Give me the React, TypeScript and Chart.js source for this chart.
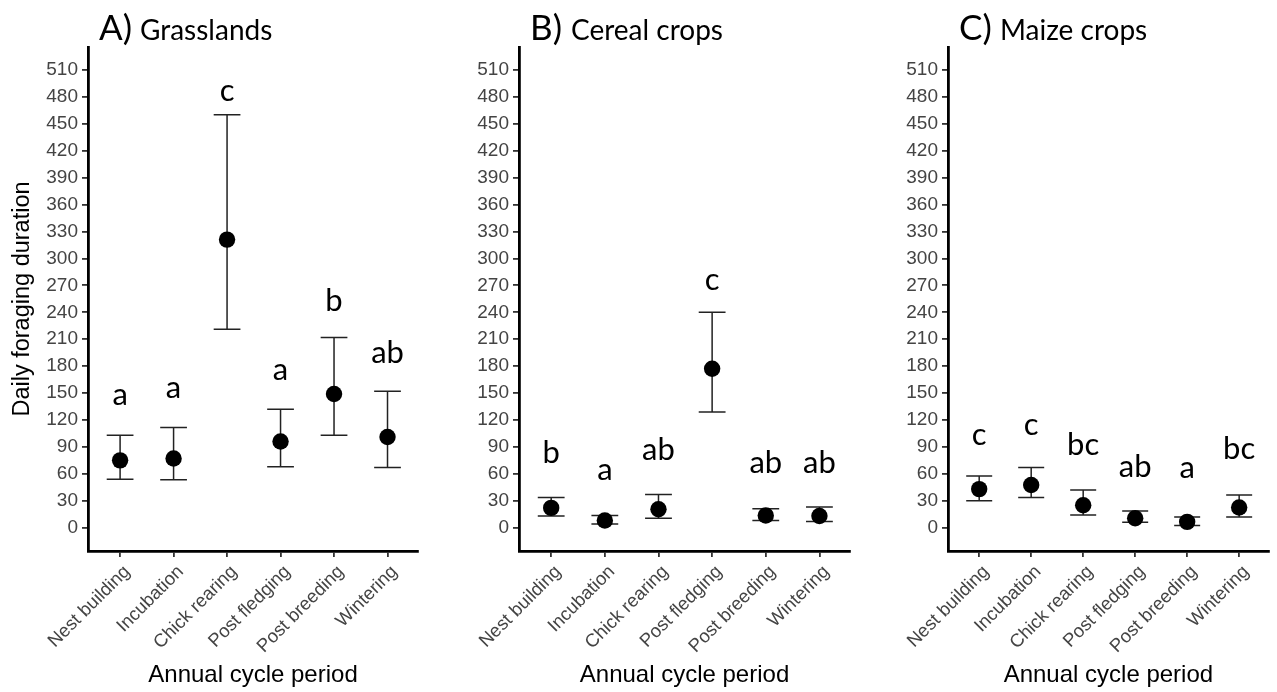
import React, { useEffect, useRef } from "react";
import { Chart, registerables } from "chart.js";

Chart.register(...registerables);

const categories = ["Nest building", "Incubation", "Chick rearing", "Post fledging", "Post breeding", "Wintering"];
const yTicks = [0, 30, 60, 90, 120, 150, 180, 210, 240, 270, 300, 330, 360, 390, 420, 450, 480, 510];

const grassMean = [75, 77, 321, 96, 149, 101];
const grassUpper = [103, 111.5, 460, 132, 212, 152];
const grassLower = [54, 53.5, 221, 68, 103, 67];
const grassLetters = ["a", "a", "c", "a", "b", "ab"];
const grassLetterY = [137, 145, 475, 165, 241, 184];

const cerealMean = [22, 8, 20.5, 177, 13.5, 13];
const cerealUpper = [33.5, 13.5, 37, 240, 21, 23];
const cerealLower = [13, 4, 10.5, 129, 8, 7];
const cerealLetters = ["b", "a", "ab", "c", "ab", "ab"];
const cerealLetterY = [72, 53, 75, 265, 61, 61];

const maizeMean = [43, 47.5, 25, 10.5, 6.5, 22.5];
const maizeUpper = [57.5, 67, 42, 18.5, 12, 36.5];
const maizeLower = [30, 33.5, 14, 6, 2.5, 12];
const maizeLetters = ["c", "c", "bc", "ab", "a", "bc"];
const maizeLetterY = [92, 103, 81, 57, 55, 77];

const TICK_FONT = "'Liberation Sans', Arial, sans-serif";
const LABEL_FONT = "Lato, 'Open Sans', sans-serif";

type PanelProps = {
  prefix: string;
  name: string;
  mean: number[];
  upper: number[];
  lower: number[];
  letters: string[];
  letterY: number[];
  left: number;
  width: number;
  padRight: number;
  showYTitle: boolean;
};

function Panel(p: PanelProps) {
  const ref = useRef<HTMLCanvasElement | null>(null);
  useEffect(() => {
    if (!ref.current) return;
    const plugin = {
      id: "errorBarsLetters",
      beforeDatasetsDraw(chart: any) {
        const { ctx, scales } = chart;
        const x = scales.x;
        const y = scales.y;
        ctx.save();
        ctx.strokeStyle = "#222";
        ctx.lineWidth = 1.5;
        p.mean.forEach((_, i) => {
          const cx = x.getPixelForValue(i);
          const x0 = x.getPixelForValue(i - 0.25);
          const x1 = x.getPixelForValue(i + 0.25);
          const yu = y.getPixelForValue(p.upper[i]);
          const yl = y.getPixelForValue(p.lower[i]);
          ctx.beginPath();
          ctx.moveTo(cx, yu);
          ctx.lineTo(cx, yl);
          ctx.moveTo(x0, yu);
          ctx.lineTo(x1, yu);
          ctx.moveTo(x0, yl);
          ctx.lineTo(x1, yl);
          ctx.stroke();
        });
        ctx.restore();
      },
      afterDraw(chart: any) {
        const { ctx, scales, chartArea } = chart;
        const x = scales.x;
        const y = scales.y;
        ctx.save();
        ctx.fillStyle = "#000";
        ctx.textAlign = "center";
        ctx.textBaseline = "alphabetic";
        ctx.font = `31px ${LABEL_FONT}`;
        p.letters.forEach((t, i) => {
          ctx.fillText(t, x.getPixelForValue(i), y.getPixelForValue(p.letterY[i]));
        });
        ctx.textAlign = "left";
        ctx.font = `35px ${LABEL_FONT}`;
        ctx.fillText(p.prefix, chartArea.left + 11, 40);
        ctx.font = `28px ${LABEL_FONT}`;
        ctx.fillText(p.name, chartArea.left + 52, 40);
        ctx.restore();
      },
    };
    const chart = new Chart(ref.current, {
      type: "scatter",
      data: {
        datasets: [
          {
            data: p.mean.map((v, i) => ({ x: i, y: v })),
            pointRadius: 8.2,
            pointHoverRadius: 8.2,
            backgroundColor: "#000",
            borderColor: "#000",
            borderWidth: 0,
          },
        ],
      },
      options: {
        animation: false,
        responsive: false,
        devicePixelRatio: 1,
        events: [],
        layout: { padding: { top: 47, right: p.padRight, left: 0, bottom: 0 } },
        plugins: { legend: { display: false }, tooltip: { enabled: false }, title: { display: false } },
        scales: {
          x: {
            type: "linear",
            min: -0.6,
            max: 5.57,
            afterBuildTicks: (scale: any) => {
              scale.ticks = categories.map((_, i) => ({ value: i }));
            },
            afterFit: (scale: any) => {
              scale.height = 141;
            },
            ticks: {
              autoSkip: false,
              minRotation: 45,
              maxRotation: 45,
              padding: 4,
              labelOffset: 7,
              color: "#444",
              font: { family: TICK_FONT, size: 18.5 },
              callback: (v: any) => categories[v as number] ?? "",
            },
            grid: { drawOnChartArea: false, drawTicks: true, tickLength: 6, color: "#333", lineWidth: 1.8 },
            border: { display: true, color: "#000", width: 2.8 },
            title: {
              display: true,
              text: "Annual cycle period",
              color: "#000",
              font: { family: TICK_FONT, size: 24 },
              padding: { top: 0, bottom: 2 },
            },
          },
          y: {
            type: "linear",
            min: -26,
            max: 535.6,
            afterBuildTicks: (scale: any) => {
              scale.ticks = yTicks.map((v) => ({ value: v }));
            },
            afterFit: (scale: any) => {
              scale.width = 88;
            },
            ticks: {
              padding: 4,
              color: "#444",
              font: { family: TICK_FONT, size: 19 },
              callback: (v: any) => String(v),
            },
            grid: { drawOnChartArea: false, drawTicks: true, tickLength: 6, color: "#333", lineWidth: 1.8 },
            border: { display: true, color: "#000", width: 2.8 },
            title: {
              display: p.showYTitle,
              text: "Daily foraging duration",
              color: "#000",
              font: { family: TICK_FONT, size: 23.5 },
              padding: { top: 8, bottom: 0 },
            },
          },
        },
      } as any,
      plugins: [plugin],
    });
    return () => chart.destroy();
  }, []);
  return (
    <div style={{ position: "absolute", left: p.left, top: 0, width: p.width, height: 692 }}>
      <canvas ref={ref} width={p.width} height={692} style={{ width: p.width, height: 692, display: "block" }} />
    </div>
  );
}

export default function App() {
  return (
    <div style={{ position: "absolute", left: 0, top: 0, width: 1277, height: 692, background: "#fff", overflow: "hidden" }}>
      <Panel prefix="A)" name="Grasslands" mean={grassMean} upper={grassUpper} lower={grassLower}
        letters={grassLetters} letterY={grassLetterY} left={0} width={430} padRight={12} showYTitle={true} />
      <Panel prefix="B)" name="Cereal crops" mean={cerealMean} upper={cerealUpper} lower={cerealLower}
        letters={cerealLetters} letterY={cerealLetterY} left={431} width={431} padRight={12} showYTitle={false} />
      <Panel prefix="C)" name="Maize crops" mean={maizeMean} upper={maizeUpper} lower={maizeLower}
        letters={maizeLetters} letterY={maizeLetterY} left={860} width={417} padRight={0} showYTitle={false} />
    </div>
  );
}
